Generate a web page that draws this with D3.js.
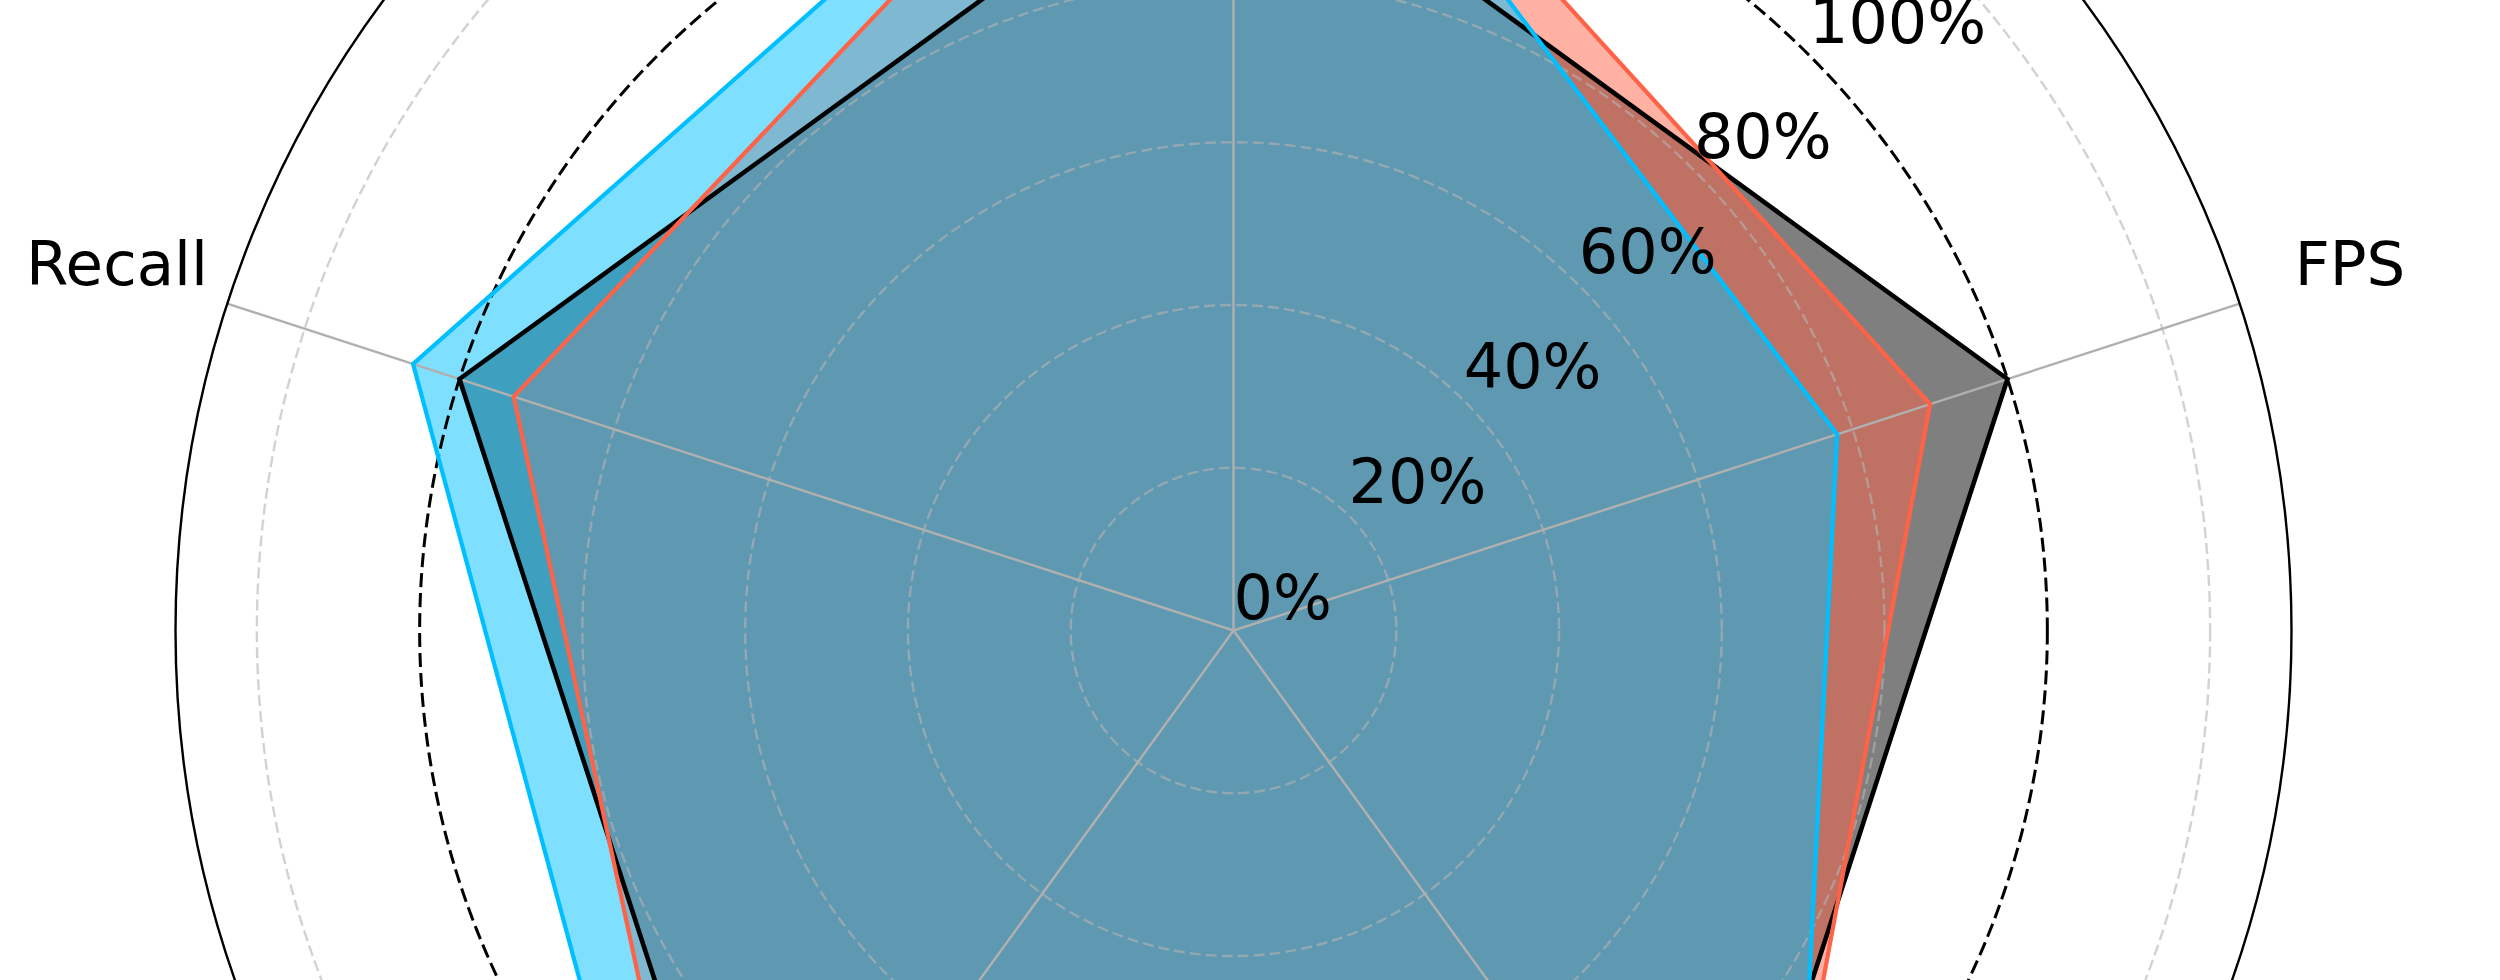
<!DOCTYPE html>
<html>
<head>
<meta charset="utf-8">
<script src="https://cdn.jsdelivr.net/npm/d3@7"></script>
<style>
  html, body { margin: 0; padding: 0; background: #fff; overflow: hidden; }
  svg { display: block; font-family: "DejaVu Sans", sans-serif; }
</style>
</head>
<body>
<svg id="chart" width="2500" height="980"></svg>
<script>
// --- data (clockwise from the top spoke) ---
var axisNames = ["mAP50", "FPS", "mAP50-95", "Precision", "Recall"];
var seriesNames = ["Baseline", "Model A", "Ours"];
var baselineVals = [1.00, 1.00, 1.00, 1.00, 1.00];
var modelAVals = [1.22, 0.90, 1.09, 1.08, 0.93];
var oursVals = [1.22, 0.78, 1.16, 1.14, 1.06];
var seriesColors = ["#000000", "#FF6347", "#00BFFF"];
var rTicks = [0, 0.2, 0.4, 0.6, 0.8, 1.0, 1.2];
var rTickLabels = ["0%", "20%", "40%", "60%", "80%", "100%", "120%"];

var series = [baselineVals, modelAVals, oursVals];

// --- layout ---
var cx = 1233.5, cy = 630.5;
var rMax = 1.3;
var r = d3.scaleLinear().domain([0, rMax]).range([0, 1058]);
var angle = d3.scaleLinear().domain([0, axisNames.length]).range([0, 2 * Math.PI]);

var svg = d3.select("#chart");
var g = svg.append("g").attr("transform", "translate(" + cx + "," + cy + ")");

function polar(a, rad) {
    // a: d3 radial angle (0 = up, clockwise)
    return [rad * Math.sin(a), -rad * Math.cos(a)];
}

var radial = d3.lineRadial()
    .angle(function(d, i) { return angle(i); })
    .radius(function(d) { return r(d); })
    .curve(d3.curveLinearClosed);

// 1. fills
g.selectAll("path.fill")
    .data(series)
    .enter().append("path")
    .attr("class", "fill")
    .attr("d", radial)
    .attr("fill", function(d, i) { return seriesColors[i]; })
    .attr("fill-opacity", 0.5)
    .attr("stroke", "none");

// 2. grid: dashed rings + solid spokes
g.selectAll("circle.ring")
    .data(rTicks.filter(function(t) { return t > 0 && t !== 1.0; }))
    .enter().append("circle")
    .attr("class", "ring")
    .attr("r", function(d) { return r(d); })
    .attr("fill", "none")
    .attr("stroke", "#b4b4b4")
    .attr("stroke-opacity", 0.6)
    .attr("stroke-width", 2.4)
    .attr("stroke-dasharray", "11,5");

g.selectAll("line.spoke")
    .data(axisNames)
    .enter().append("line")
    .attr("class", "spoke")
    .attr("x1", 0).attr("y1", 0)
    .attr("x2", function(d, i) { return polar(angle(i), r(rMax))[0]; })
    .attr("y2", function(d, i) { return polar(angle(i), r(rMax))[1]; })
    .attr("stroke", "#b0b0b0")
    .attr("stroke-width", 2.4);

// outer spine
g.append("circle")
    .attr("r", r(rMax))
    .attr("fill", "none")
    .attr("stroke", "#000")
    .attr("stroke-width", 2.4);

// 100% reference ring
g.append("circle")
    .attr("r", r(1.0))
    .attr("fill", "none")
    .attr("stroke", "#000")
    .attr("stroke-width", 3)
    .attr("stroke-dasharray", "14,6");

// 3. outlines
g.selectAll("path.line")
    .data(series)
    .enter().append("path")
    .attr("class", "line")
    .attr("d", radial)
    .attr("fill", "none")
    .attr("stroke", function(d, i) { return seriesColors[i]; })
    .attr("stroke-width", function(d, i) { return i === 0 ? 4.6 : 4.2; })
    .attr("stroke-linejoin", "miter");

// 4. radial tick labels (along 45 deg)
var labelAng = Math.PI / 4;
g.selectAll("text.rtick")
    .data(rTicks)
    .enter().append("text")
    .attr("class", "rtick")
    .attr("x", function(d) { return polar(labelAng, r(d))[0]; })
    .attr("y", function(d) { return polar(labelAng, r(d))[1] - 12; })
    .attr("text-anchor", "start")
    .attr("font-size", 62)
    .attr("fill", "#000")
    .text(function(d, i) { return rTickLabels[i]; });

// 5. axis names
var labelR = r(rMax) + 116;
g.selectAll("text.axis")
    .data(axisNames)
    .enter().append("text")
    .attr("class", "axis")
    .attr("x", function(d, i) { return polar(angle(i), labelR)[0]; })
    .attr("y", function(d, i) { return polar(angle(i), labelR)[1]; })
    .attr("dy", "0.28em")
    .attr("text-anchor", "middle")
    .attr("font-size", 61)
    .attr("fill", "#000")
    .text(function(d) { return d; });
</script>
</body>
</html>
